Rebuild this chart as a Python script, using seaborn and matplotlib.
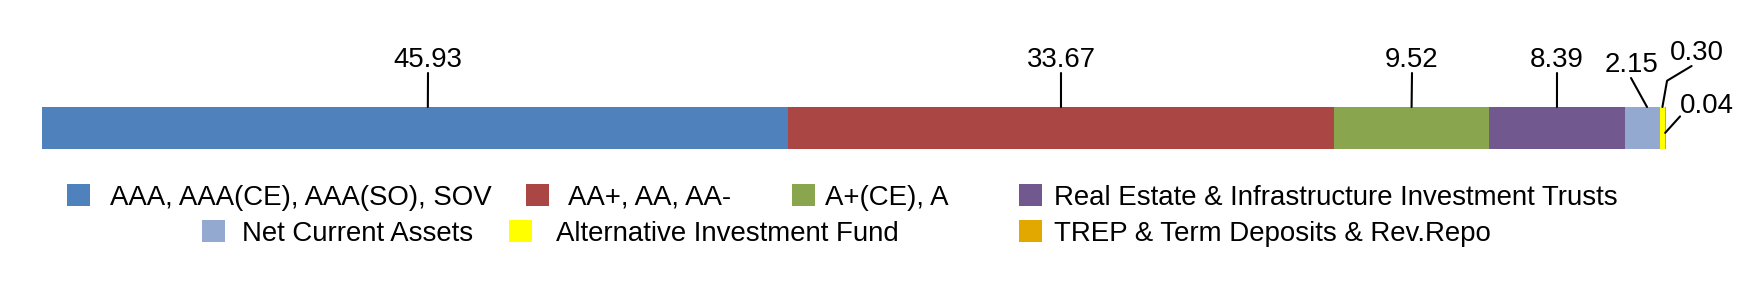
import matplotlib
matplotlib.use("Agg")
import matplotlib.pyplot as plt
from matplotlib.patches import Patch
from matplotlib.transforms import ScaledTranslation
import seaborn as sns
import numpy as np
import pandas as pd

# ---- data ----
categories = ["AAA, AAA(CE), AAA(SO), SOV", "AA+, AA, AA-", "A+(CE), A",
              "Real Estate & Infrastructure Investment Trusts", "Net Current Assets",
              "Alternative Investment Fund", "TREP & Term Deposits & Rev.Repo"]
values = [45.93, 33.67, 9.52, 8.39, 2.15, 0.30, 0.04]
value_labels = ["45.93", "33.67", "9.52", "8.39", "2.15", "0.30", "0.04"]
colors = ["#4F81BD", "#AA4643", "#89A54E", "#71588F", "#93A9CF", "#FFFF00", "#E3A800"]

# ---- style ----
sns.set_theme(style="white")
plt.rcParams['font.family'] = ['Liberation Sans', 'DejaVu Sans']
plt.rcParams['text.color'] = 'black'
plt.rcParams['legend.labelcolor'] = 'black'
FS = 19.9
DPI = 100
fs_px = FS * DPI / 72.0

W, H = 1760, 290
fig = plt.figure(figsize=(W / DPI, H / DPI), dpi=DPI)
fig.patch.set_facecolor("white")
bar_left, bar_right, bar_top, bar_bot = 42, 1665.5, 107, 148.7
ax = fig.add_axes([bar_left / W, 1 - bar_bot / H, (bar_right - bar_left) / W, (bar_bot - bar_top) / H])

cum = np.cumsum(values)
df = pd.DataFrame({"cat": categories, "value": values, "cum": cum, "row": ["Portfolio"] * len(values)})

# stacked bar drawn as overlapping cumulative bars (largest total first)
for i in reversed(range(len(df))):
    sns.barplot(data=df.iloc[[i]], x="cum", y="row", orient="h", color=colors[i],
                saturation=1, width=1, errorbar=None, linewidth=0, ax=ax)

ax.set_xlim(0, 100)
ax.set_ylim(0.5, -0.5)
ax.axis("off")

# ---- data labels with leader lines ----
starts = np.concatenate([[0], cum[:-1]])
centers = starts + np.array(values) / 2
label_text_px = [(428, 67), (1061, 67), (1412, 67), (1557, 67), (1631, 72), (1697, 60), (1707, 113)]
anchor_dx = [13, 0, 0, 0, 4.5, 0, 0]
anchor_y = [-0.5] * 6 + [0.12]
relposes = [(0.5, 0)] * 5 + [(0.4, 0), (0.0, 0.1)]
conns = ["arc3"] * 5 + ["angle,angleA=31,angleB=80,rad=0", "arc3"]

for i, lab in enumerate(value_labels):
    tr = ax.transData + ScaledTranslation(anchor_dx[i] / DPI, 0, fig.dpi_scale_trans)
    tx, ty = label_text_px[i]
    ax.annotate(lab, xy=(centers[i], anchor_y[i]), xycoords=tr,
                xytext=(tx, H - ty), textcoords="figure pixels",
                ha="center", va="baseline", fontsize=FS, color="black",
                arrowprops=dict(arrowstyle="-", color="black", lw=1.5,
                                patchA=None, shrinkA=0, shrinkB=0,
                                relpos=relposes[i], connectionstyle=conns[i]),
                annotation_clip=False)

# ---- legend (Excel-style arrangement) ----
sq = 23.0
legend_layout = [(67, 197.5, 20), (526, 197.5, 19), (792, 197.5, 10), (1019, 197.5, 12),
                 (202, 233.5, 17), (509, 233.5, 24), (1019, 233.5, 12)]
for i, cat in enumerate(categories):
    x, y, gap = legend_layout[i]
    fig.legend(handles=[Patch(facecolor=colors[i], edgecolor="none", label=cat)],
               loc="center left", bbox_to_anchor=(x / W, 1 - y / H),
               bbox_transform=fig.transFigure, frameon=False,
               borderpad=0, borderaxespad=0,
               handlelength=sq / fs_px, handleheight=sq / fs_px,
               handletextpad=gap / fs_px, fontsize=FS, labelcolor="black")

fig.savefig("out.png", dpi=DPI, facecolor="white")
